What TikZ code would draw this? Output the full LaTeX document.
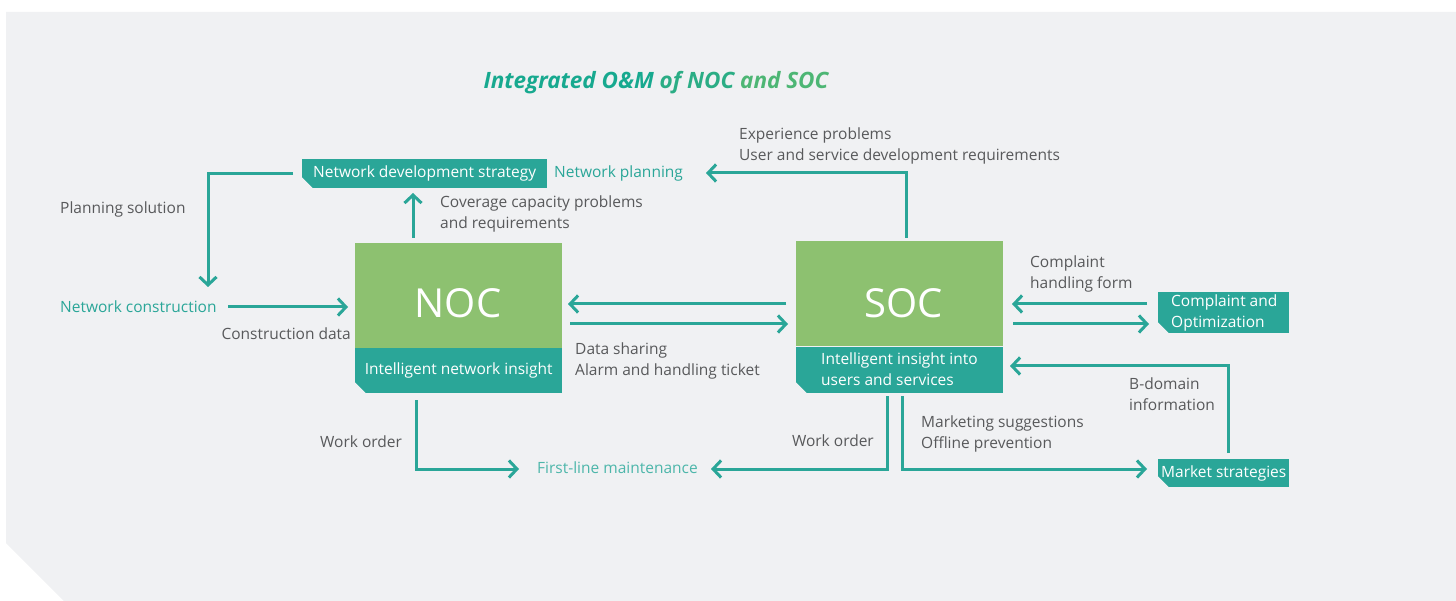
\documentclass[tikz,border=0pt]{standalone}
\usepackage{fontspec}
\setmainfont{Open Sans}
\usetikzlibrary{arrows.meta}
\definecolor{bgc}{HTML}{F0F1F3}
\definecolor{leaf}{HTML}{8DC170}
\definecolor{sea}{HTML}{2AA698}
\definecolor{ink}{HTML}{58595B}
\definecolor{paleSea}{HTML}{4DB6AA}
\definecolor{ttlA}{HTML}{17A98F}
\definecolor{ttlB}{HTML}{2BAD85}
\definecolor{ttlC}{HTML}{4DB674}
\newcommand{\txtsize}{\fontsize{15.5}{21}\selectfont}
\tikzset{
  lbl/.style={font=\txtsize, text=ink, inner sep=0pt, align=left},
  seatext/.style={font=\txtsize, text=sea, inner sep=0pt},
  tag/.style={fill=sea, text=white, inner sep=0pt, anchor=north west, font=\txtsize},
  core/.style={fill=leaf, text=white, inner sep=0pt, anchor=north west,
               minimum width=207pt, minimum height=105pt},
  bigword/.style={text=white, font=\fontsize{40}{44}\selectfont, inner sep=0pt},
  base/.style={fill=sea, text=white, inner sep=0pt, anchor=north west,
               minimum width=207pt, minimum height=45pt, font=\txtsize},
  boxtext/.style={text=white, font=\txtsize, inner sep=0pt, align=left, anchor=west},
  conn/.style={draw=sea, line width=3pt,
               -{Straight Barb[length=8pt,width=17pt,line width=3pt]}},
}
\newcommand{\cutcorner}[1]{\fill[bgc] (#1.south west) -- ++(11,0) -- ++(-11,-11) -- cycle;}
\begin{document}
\begin{tikzpicture}[x=1pt,y=-1pt]
\useasboundingbox (0,0) rectangle (1456,601);
% panel
\fill[bgc] (6,12) -- (1456,12) -- (1456,601) -- (64,601) -- (6,543) -- cycle;

% heading
\node[font=\fontsize{22.5}{26}\selectfont\bfseries\itshape, inner sep=0pt] (title) at (656,83)
  {\textcolor{ttlA}{Integrated O\&M} \textcolor{ttlB}{of NOC} \textcolor{ttlC}{and SOC}};

% NOC block
\node[core] (noc) at (355,243) {};
\node[bigword] (noct) at (458,303) {NOC};
\node[base] (nocb) at (355,348) {Intelligent network insight};
\cutcorner{nocb}

% SOC block
\node[core] (soc) at (796,241) {};
\node[bigword] (soct) at (904,303) {SOC};
\node[base, minimum height=46pt] (socb) at (796,347) {};
\node[boxtext] (socbt) at (821,369) {Intelligent insight into\\users and services};
\cutcorner{socb}

% tag boxes
\node[tag, minimum width=245pt, minimum height=29pt] (nds) at (302,159) {Network development strategy};
\cutcorner{nds}
\node[tag, minimum width=131pt, minimum height=41pt] (cao) at (1158,292) {};
\node[boxtext] (caot) at (1171,313) {Complaint and\\Optimization};
\cutcorner{cao}
\node[tag, minimum width=131pt, minimum height=28pt] (ms) at (1158,459) {Market strategies};
\cutcorner{ms}

% teal labels
\node[seatext, anchor=west] (np) at (554,173) {Network planning};
\node[seatext, anchor=west] (nc) at (60,307) {Network construction};
\node[seatext, text=paleSea, anchor=west] (flm) at (537,468) {First-line maintenance};

% grey labels
\node[lbl, anchor=west] (l1) at (60,209) {Planning solution};
\node[lbl, anchor=east] (l2) at (351,334) {Construction data};
\node[lbl, anchor=west] (l3) at (440,214) {Coverage capacity problems\\and requirements};
\node[lbl, anchor=west] (l4) at (739,146) {Experience problems\\User and service development requirements};
\node[lbl, anchor=west] (l5) at (575,361) {Data sharing\\Alarm and handling ticket};
\node[lbl, anchor=west] (l6) at (1030,274) {Complaint\\handling form};
\node[lbl, anchor=west] (l7) at (1129,394) {B-domain\\information};
\node[lbl, anchor=west] (l8) at (320,442) {Work order};
\node[lbl, anchor=east] (l9) at (874,441) {Work order};
\node[lbl, anchor=west] (l10) at (921,434) {Marketing suggestions\\Offline prevention};

% connector end points
\coordinate (psA) at (293,174);
\coordinate (psB) at (208,287);
\coordinate (ncA) at (228,307);
\coordinate (ncB) at (348,307);
\coordinate (upA) at (413,238);
\coordinate (upB) at (413,193);
\coordinate (epA) at (906,238);
\coordinate (epB) at (706,173);
\coordinate (snA) at (786,304);
\coordinate (snB) at (568,304);
\coordinate (nsA) at (570,324);
\coordinate (nsB) at (788,324);
\coordinate (chA) at (1147,304);
\coordinate (chB) at (1012,304);
\coordinate (coA) at (1013,324);
\coordinate (coB) at (1149,324);
\coordinate (bdA) at (1228,453);
\coordinate (bdB) at (1010,366);
\coordinate (woA) at (416,400);
\coordinate (woB) at (519,469);
\coordinate (wsA) at (887,396);
\coordinate (wsB) at (711,469);
\coordinate (mkA) at (902,396);
\coordinate (mkB) at (1147,469);

% connectors
\draw[conn] (psA) -| (psB);
\draw[conn] (ncA) -- (ncB);
\draw[conn] (upA) -- (upB);
\draw[conn] (epA) |- (epB);
\draw[conn] (snA) -- (snB);
\draw[conn] (nsA) -- (nsB);
\draw[conn] (chA) -- (chB);
\draw[conn] (coA) -- (coB);
\draw[conn] (bdA) |- (bdB);
\draw[conn] (woA) |- (woB);
\draw[conn] (wsA) |- (wsB);
\draw[conn] (mkA) |- (mkB);
\end{tikzpicture}
\end{document}
